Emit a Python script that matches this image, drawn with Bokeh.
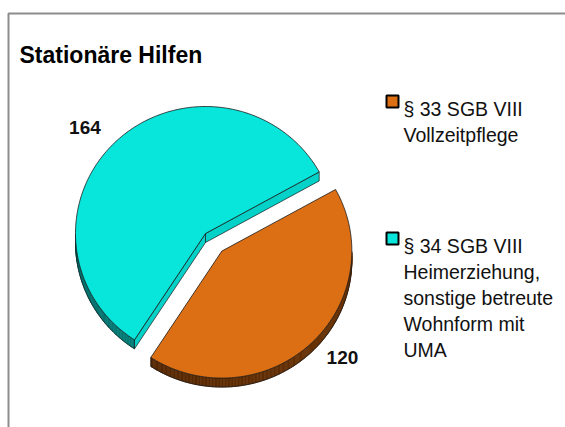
import numpy as np
from bokeh.plotting import figure
from bokeh.models import Range1d
from bokeh.core.properties import value
from bokeh.embed import file_html
from bokeh.resources import INLINE

# ---------------- data ----------------
title = "Stationäre Hilfen"
categories = ["§ 33 SGB VIII\nVollzeitpflege",
              "§ 34 SGB VIII\nHeimerziehung,\nsonstige betreute\nWohnform mit\nUMA"]
values = [120, 164]
top_colors = ["#DC6E14", "#08E6DC"]
cut_colors = ["#B85A0C", "#04D2C8"]
rim_light = ["#6A3204", "#00A8A2"]
rim_dark = ["#4E2300", "#006E6A"]
explode = [24, 0]

# ---------------- layout ----------------
W, H = 565, 427
CX, CY = 205, 233
RX, RY = 130, 127
DEPTH = 9
START = 29.0
LX, LY = 177, 145
FONT = "Liberation Sans"

p = figure(width=W, height=H, x_range=Range1d(0, W), y_range=Range1d(H, 0),
           output_backend="svg", toolbar_location=None,
           x_axis_location=None, y_axis_location=None, min_border=0)
p.grid.visible = False
p.outline_line_color = None
p.background_fill_color = "white"
p.border_fill_color = "white"

# chart border
p.quad(left=[8], right=[W + 20], top=[13], bottom=[H + 20],
       fill_color=None, line_color="#8C8C8C", line_width=2)


def hexmix(c1, c2, t):
    a = np.array([int(c1[i:i + 2], 16) for i in (1, 3, 5)], float)
    b = np.array([int(c2[i:i + 2], 16) for i in (1, 3, 5)], float)
    c = a + (b - a) * t
    return "#%02x%02x%02x" % tuple(int(round(v)) for v in c)


total = float(sum(values))
hi = START
for i, v in enumerate(values):
    span = 360.0 * v / total
    lo = hi - span
    mid = np.radians((lo + hi) / 2)
    cx = CX + explode[i] * np.cos(mid)
    cy = CY - explode[i] * np.sin(mid)
    lo_r, hi_r = np.radians(lo), np.radians(hi)

    def P(t, d=0.0):
        return cx + RX * np.cos(t), cy - RY * np.sin(t) + d

    # cut faces
    for edge, normal in ((hi_r, hi_r + np.pi / 2), (lo_r, lo_r - np.pi / 2)):
        if np.sin(normal) < 0:
            ex, ey = P(edge)
            p.patch([cx, ex, ex, cx], [cy, ey, ey + DEPTH, cy + DEPTH],
                    fill_color=cut_colors[i], line_color="#1a1a1a", line_width=0.7)

    # rim
    ts = np.linspace(lo_r, hi_r, 240)
    xs_list, ys_list, cols = [], [], []
    vis_pts = []
    for t1, t2 in zip(ts[:-1], ts[1:]):
        tm = (t1 + t2) / 2
        if np.sin(tm) < 0:
            x1, y1 = P(t1)
            x2, y2 = P(t2)
            xs_list.append([x1, x2, x2, x1])
            ys_list.append([y1, y2, y2 + DEPTH, y1 + DEPTH])
            shade = np.clip((np.cos(tm) + 1) / 2, 0, 1)
            cols.append(hexmix(rim_dark[i], rim_light[i], shade))
            vis_pts.append((t1, t2))
    if xs_list:
        p.patches(xs_list, ys_list, fill_color=cols, line_color=cols, line_width=0.6)
        tv = np.linspace(vis_pts[0][0], vis_pts[-1][1], 120)
        bx = cx + RX * np.cos(tv)
        by = cy - RY * np.sin(tv) + DEPTH
        p.line(bx, by, line_color="#1a1a1a", line_width=0.8)
        for t in (tv[0], tv[-1]):
            x0, y0 = P(t)
            p.line([x0, x0], [y0, y0 + DEPTH], line_color="#1a1a1a", line_width=0.7)

    # top face
    tt = np.linspace(lo_r, hi_r, 200)
    fx = np.concatenate([[cx], cx + RX * np.cos(tt), [cx]])
    fy = np.concatenate([[cy], cy - RY * np.sin(tt), [cy]])
    p.patch(fx, fy, fill_color=top_colors[i], line_color="#1a1a1a", line_width=0.8)

    # value label
    p.text(x=[cx + LX * np.cos(mid)], y=[cy - LY * np.sin(mid)], text=[str(v)],
           text_font=value(FONT), text_font_size="19px", text_font_style="bold",
           text_align="center", text_baseline="middle", text_color="#111111")

    hi = lo

# title
p.text(x=[19], y=[54], text=[title], text_font=value(FONT), text_font_size="23px",
       text_font_style="bold", text_align="left", text_baseline="alphabetic",
       text_color="#000000")

# legend
leg_base = [108, 245]
PITCH = 26
for i, cat in enumerate(categories):
    lines = cat.split("\n")
    p.rect(x=[392], y=[leg_base[i] - 7], width=12, height=12,
           fill_color=top_colors[i], line_color="#000000", line_width=2)
    p.text(x=[403] * len(lines), y=[leg_base[i] + k * PITCH for k in range(len(lines))],
           text=lines, text_font=value(FONT), text_font_size="19.5px",
           text_align="left", text_baseline="alphabetic", text_color="#111111")

open("out.html", "w").write(file_html(p, INLINE))
